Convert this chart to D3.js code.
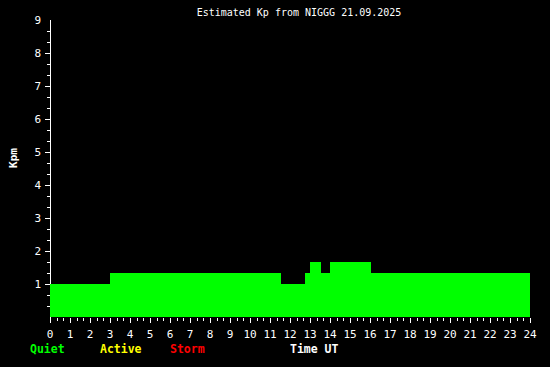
<!DOCTYPE html>
<html><head><meta charset="utf-8">
<script src="https://cdn.jsdelivr.net/npm/d3@7"></script>
<style>
html,body{margin:0;padding:0;background:#000;}
svg{display:block;}
</style></head>
<body>
<svg id="c" width="550" height="367"></svg>
<script>
const title = "Estimated Kp from NIGGG 21.09.2025";
// step start times (hours UT) and Kp values
const stepTimes = [0, 3, 11.55, 12.75, 13, 13.55, 14, 16.05, 24];
const kpValues  = [1, 1.333, 1, 1.333, 1.667, 1.333, 1.667, 1.333, 1.333];
const xTicks = d3.range(0, 25);
const yTicks = d3.range(1, 10);
const legend = [{t:"Quiet", c:"#00ff00"}, {t:"Active", c:"#ffff00"}, {t:"Storm", c:"#ff0000"}];

const svg = d3.select("#c");
svg.append("rect").attr("width",550).attr("height",367).attr("fill","#000");
const x = d3.scaleLinear().domain([0,24]).range([50,530]);
const y = d3.scaleLinear().domain([0,9]).range([317,20]);
const font = "'DejaVu Sans Mono', monospace";

const data = stepTimes.map((t,i)=>({t, v:kpValues[i]}));
const area = d3.area().x(d=>x(d.t)).y0(y(0)).y1(d=>y(d.v)).curve(d3.curveStepAfter);

// y axis line
svg.append("line").attr("x1",50.5).attr("x2",50.5).attr("y1",20).attr("y2",318)
  .attr("stroke","#fff").attr("shape-rendering","crispEdges");
// y ticks
const yMinor = d3.range(0, 27).map(i=>i/3).filter(v=>v>0);
svg.selectAll(".ymt").data(yMinor).join("line")
  .attr("x1", d => Math.abs(d-Math.round(d))<1e-6 ? 45 : 47).attr("x2",50)
  .attr("y1", d=>Math.round(y(d))+0.5).attr("y2", d=>Math.round(y(d))+0.5)
  .attr("stroke","#fff").attr("shape-rendering","crispEdges");
svg.selectAll(".yl").data(yTicks).join("text")
  .attr("x",41).attr("y",d=>Math.round(y(d))+4)
  .attr("text-anchor","end").attr("fill","#fff")
  .style("font-family",font).style("font-size","11px").text(d=>d);

// area
svg.append("path").datum(data).attr("d",area).attr("fill","#00ff00")
  .attr("shape-rendering","crispEdges");

// x ticks
const xMinor = d3.range(0, 73).map(i=>i/3);
svg.selectAll(".xmt").data(xMinor).join("line")
  .attr("x1", d=>Math.round(x(d))+0.5).attr("x2", d=>Math.round(x(d))+0.5)
  .attr("y1",318).attr("y2", d => Math.abs(d-Math.round(d))<1e-6 ? 323 : 321)
  .attr("stroke","#fff").attr("shape-rendering","crispEdges");
svg.selectAll(".xl").data(xTicks).join("text")
  .attr("x",d=>x(d)).attr("y",338)
  .attr("text-anchor","middle").attr("fill","#fff")
  .style("font-family",font).style("font-size","11px").text(d=>d);

// title
svg.append("text").attr("x",299).attr("y",16).attr("text-anchor","middle")
  .attr("fill","#fff").style("font-family",font).style("font-size","10px").text(title);

// y label
svg.append("text").attr("transform","translate(17,158) rotate(-90)")
  .attr("text-anchor","middle").attr("fill","#fff")
  .style("font-family",font).style("font-size","11px").style("font-weight","bold").text("Kpm");

// legend
const lx = [30, 100, 170];
svg.selectAll(".lg").data(legend).join("text")
  .attr("x",(d,i)=>lx[i]).attr("y",353).attr("fill",d=>d.c)
  .style("font-family",font).style("font-size","11.5px").style("font-weight","bold").text(d=>d.t);
svg.append("text").attr("x",290).attr("y",353).attr("fill","#fff")
  .style("font-family",font).style("font-size","11.5px").style("font-weight","bold").text("Time UT");
</script>
</body></html>
